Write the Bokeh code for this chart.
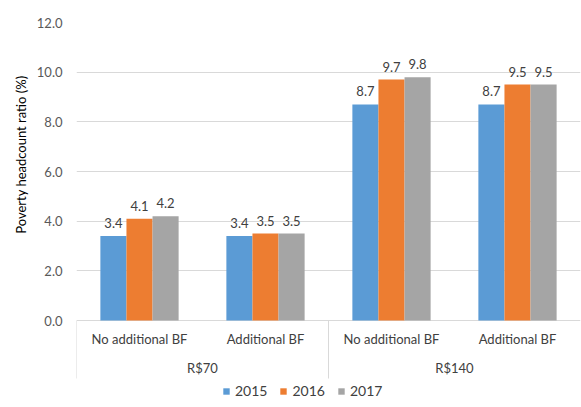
from bokeh.plotting import figure
from bokeh.models import (ColumnDataSource, FactorRange, NumeralTickFormatter, FixedTicker, Legend,
                          LegendItem, Title)
from bokeh.transform import dodge
from bokeh.core.properties import value
from bokeh.embed import file_html
from bokeh.resources import INLINE

groups = ["R$70", "R$70", "R$140", "R$140"]
subgroups = ["No additional BF", "Additional BF", "No additional BF", "Additional BF"]
group_names = ["R$70", "R$140"]
years = ["2015", "2016", "2017"]
v2015 = [3.4, 3.4, 8.7, 8.7]
v2016 = [4.1, 3.5, 9.7, 9.5]
v2017 = [4.2, 3.5, 9.8, 9.5]
colors = ["#5B9BD5", "#ED7D31", "#A5A5A5"]
yticks = [0, 2, 4, 6, 8, 10, 12]
y_label = "Poverty headcount ratio (%)"

FONT = "Lato"
factors = list(zip(groups, subgroups))
data = {"x": factors, "zero": [0] * len(factors), "sub": subgroups}
for yr, vals in zip(years, [v2015, v2016, v2017]):
    data[yr] = vals
    data[yr + "_lbl"] = [f"{v:.1f}" for v in vals]
src = ColumnDataSource(data)

# frame reaches the bottom of the page so the category box and legend can sit under the zero line
PX_PER_UNIT = 298 / 12
FRAME_H = 385
y_low = -(FRAME_H - 298) / PX_PER_UNIT

p = figure(frame_width=504, frame_height=FRAME_H, output_backend="svg", toolbar_location=None,
           x_range=FactorRange(*factors, group_padding=0, factor_padding=0, range_padding=0),
           y_range=(y_low, 12), x_axis_location=None,
           min_border_left=76, min_border_right=1, min_border_top=22, min_border_bottom=0)
p.outline_line_color = None
p.background_fill_color = "white"

bw = 0.207
items = []
for i, yr in enumerate(years):
    off = (i - 1) * bw
    r = p.vbar(x=dodge("x", off, range=p.x_range), top=yr, bottom=0, width=bw, source=src,
               fill_color=colors[i], line_color=None)
    p.text(x=dodge("x", off, range=p.x_range), y=yr, text=yr + "_lbl", source=src,
           text_align="center", text_baseline="bottom", y_offset=-8,
           text_font=value(FONT), text_font_size="13px", text_color="#404040")
    items.append(LegendItem(label=yr, renderers=[r]))

# category box: sub-category labels, group labels, separators
p.text(x="x", y="zero", text="sub", source=src, y_offset=18,
       text_align="center", text_baseline="middle",
       text_font=value(FONT), text_font_size="13px", text_color="#404040")
gsrc = ColumnDataSource({"g": group_names, "zero": [0] * len(group_names)})
p.text(x="g", y="zero", text="g", source=gsrc, y_offset=47,
       text_align="center", text_baseline="middle",
       text_font=value(FONT), text_font_size="13px", text_color="#404040")
first_of_group = [f for j, f in enumerate(factors) if j == 0 or factors[j - 1][0] != f[0]]
ssrc = ColumnDataSource({"x": first_of_group})
p.segment(x0=dodge("x", -0.5, range=p.x_range), x1=dodge("x", -0.5, range=p.x_range),
          y0=0, y1=-58 / PX_PER_UNIT, source=ssrc, line_color="#d9d9d9", line_width=1)

# y axis
p.yaxis.ticker = FixedTicker(ticks=yticks)
p.yaxis.bounds = (0, 12)
p.yaxis.formatter = NumeralTickFormatter(format="0.0")
p.yaxis.axis_line_color = None
p.yaxis.major_tick_line_color = None
p.yaxis.minor_tick_line_color = None
p.yaxis.major_tick_out = 0
p.yaxis.major_label_standoff = 14
p.yaxis.major_label_text_font = FONT
p.yaxis.major_label_text_font_size = "13px"
p.yaxis.major_label_text_color = "#595959"

# y-axis title, placed against the 0-12 part of the frame
p.add_layout(Title(text=y_label, align="right", offset=53, text_font=FONT,
                   text_font_size="13px", text_font_style="normal", text_color="#000000"), "left")

p.ygrid.grid_line_color = "#d9d9d9"
p.xgrid.grid_line_color = None

legend = Legend(items=items, orientation="horizontal", location=(146, 8),
                label_text_font=FONT, label_text_font_size="14px", label_text_color="#404040",
                glyph_width=8, glyph_height=8, label_height=14, spacing=12, label_standoff=5,
                border_line_color=None, background_fill_alpha=0, padding=0, margin=0)
p.add_layout(legend, "center")

open("out.html", "w").write(file_html(p, INLINE))
